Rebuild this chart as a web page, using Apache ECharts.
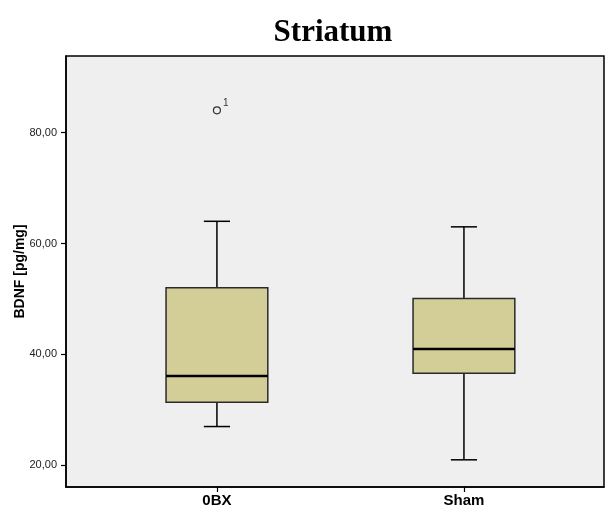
<!DOCTYPE html>
<html>
<head>
<meta charset="utf-8">
<title>Striatum</title>
<script src="https://cdn.jsdelivr.net/npm/echarts@6/dist/echarts.min.js"></script>
<style>
  html, body { margin: 0; padding: 0; background: #ffffff; }
  #chart { width: 605px; height: 515px; }
</style>
</head>
<body>
<div id="chart"></div>
<script>
// Group names shown under the x axis
const groups = ['0BX', 'Sham'];

// Five-number summaries for each group (BDNF, pg/mg)
const lowerWhisker = [27.0, 21.0];
const q1 = [31.4, 36.6];
const median = [36.1, 41.0];
const q3 = [52.0, 50.1];
const upperWhisker = [64.0, 63.0];

// Outlying cases: group index, value, case number
const outlierGroup = [0];
const outlierValue = [84.0];
const outlierCase = ['1'];

// Tick marks on the value axis
const yTicks = [20, 40, 60, 80];

const boxHalf = 0.206;   // half box width, in x-axis units
const capHalf = 0.053;   // half whisker-cap width, in x-axis units

const boxData = groups.map((g, i) => [i + 1, lowerWhisker[i], q1[i], median[i], q3[i], upperWhisker[i]]);
const outlierData = outlierGroup.map((g, i) => ({ value: [g + 1, outlierValue[i]], caseId: outlierCase[i] }));

function fmt(v) { return v.toFixed(2).replace('.', ','); }

function renderBox(params, api) {
  const x = api.value(0);
  const pLow = api.coord([x, api.value(1)]);
  const pQ1 = api.coord([x, api.value(2)]);
  const pMed = api.coord([x, api.value(3)]);
  const pQ3 = api.coord([x, api.value(4)]);
  const pHigh = api.coord([x, api.value(5)]);
  const bw = api.size([boxHalf, 0])[0];
  const cw = api.size([capHalf, 0])[0];
  const cx = pMed[0];
  const line = { stroke: '#000', lineWidth: 1.5 };
  return {
    type: 'group',
    children: [
      { type: 'line', shape: { x1: cx, y1: pQ3[1], x2: cx, y2: pHigh[1] }, style: line },
      { type: 'line', shape: { x1: cx - cw, y1: pHigh[1], x2: cx + cw, y2: pHigh[1] }, style: line },
      { type: 'line', shape: { x1: cx, y1: pQ1[1], x2: cx, y2: pLow[1] }, style: line },
      { type: 'line', shape: { x1: cx - cw, y1: pLow[1], x2: cx + cw, y2: pLow[1] }, style: line },
      { type: 'rect', shape: { x: cx - bw, y: pQ3[1], width: 2 * bw, height: pQ1[1] - pQ3[1] },
        style: { fill: '#d3ce98', stroke: '#2a2a2a', lineWidth: 1.5 } },
      { type: 'line', shape: { x1: cx - bw, y1: pMed[1], x2: cx + bw, y2: pMed[1] },
        style: { stroke: '#000', lineWidth: 2.5 } }
    ]
  };
}

const chart = echarts.init(document.getElementById('chart'), null, { renderer: 'canvas' });
chart.setOption({
  animation: false,
  backgroundColor: '#ffffff',
  title: {
    text: 'Striatum',
    left: 328,
    top: 12,
    textAlign: 'center',
    textStyle: { fontFamily: 'Liberation Serif', fontWeight: 'bold', fontSize: 31, color: '#000' }
  },
  grid: {
    left: 66, right: 1, top: 56, bottom: 28,
    outerBoundsMode: 'none',
    containLabel: false,
    show: true, backgroundColor: '#efefef', borderColor: '#000', borderWidth: 1.5
  },
  xAxis: {
    type: 'value',
    min: 0.389,
    max: 2.567,
    splitLine: { show: false },
    axisLine: { show: true, lineStyle: { color: '#000', width: 1.5 } },
    axisTick: { show: true, customValues: [1, 2], length: 5, lineStyle: { color: '#000', width: 1.2 } },
    axisLabel: {
      customValues: [1, 2],
      formatter: v => groups[Math.round(v) - 1],
      fontFamily: 'Liberation Sans', fontWeight: 'bold', fontSize: 15, color: '#000', margin: 6
    }
  },
  yAxis: {
    type: 'value',
    min: 16.1,
    max: 93.8,
    name: 'BDNF [pg/mg]',
    nameLocation: 'middle',
    nameGap: 39,
    nameMoveOverlap: false,
    nameTextStyle: { fontFamily: 'Liberation Sans', fontWeight: 'bold', fontSize: 14, color: '#000' },
    splitLine: { show: false },
    axisLine: { show: true, lineStyle: { color: '#000', width: 1.5 } },
    axisTick: { show: true, customValues: yTicks, length: 5, lineStyle: { color: '#000', width: 1.2 } },
    axisLabel: {
      customValues: yTicks,
      formatter: v => fmt(v),
      fontFamily: 'Liberation Sans', fontSize: 11, color: '#222', margin: 9
    }
  },
  series: [
    {
      type: 'custom',
      renderItem: renderBox,
      data: boxData,
      encode: { x: 0, y: [1, 2, 3, 4, 5] },
      z: 2
    },
    {
      type: 'scatter',
      data: outlierData,
      symbol: 'circle',
      symbolSize: 7,
      itemStyle: { color: 'rgba(0,0,0,0)', borderColor: '#000', borderWidth: 1.2 },
      label: {
        show: true,
        position: 'right',
        offset: [-3, -7],
        formatter: p => p.data.caseId,
        fontFamily: 'Liberation Sans', fontSize: 10, color: '#000'
      },
      z: 3
    }
  ]
});
</script>
</body>
</html>
